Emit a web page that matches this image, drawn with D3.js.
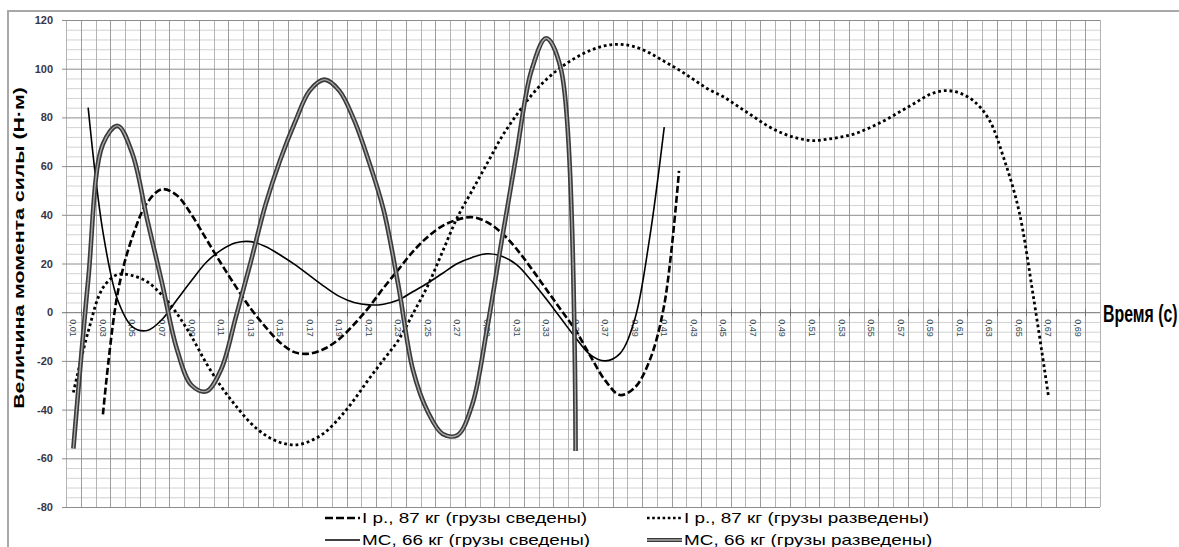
<!DOCTYPE html>
<html>
<head>
<meta charset="utf-8">
<script src="https://cdnjs.cloudflare.com/ajax/libs/d3/7.8.5/d3.min.js"></script>
<style>
body { margin: 0; background: #fff; overflow: hidden; }
svg { display: block; }
.y-tick { font: bold 11px "Liberation Sans", Arial, sans-serif; fill: #3b3545; }
.x-tick { font: 9px "Liberation Sans", Arial, sans-serif; fill: #2e4650; }
.y-title { font: bold 15px "Liberation Sans", Arial, sans-serif; fill: #000; }
.x-title { font: bold 23px "Liberation Sans", Arial, sans-serif; fill: #000; }
.legend-text { font: 14px "Liberation Sans", Arial, sans-serif; fill: #000; }
</style>
</head>
<body>
<div id="chart"></div>
<script>
const width = 1179, height = 547;

// categories (время, с)
const categories = ['0,01','0,02','0,03','0,04','0,05','0,06','0,07','0,08','0,09','0,10',
	'0,11','0,12','0,13','0,14','0,15','0,16','0,17','0,18','0,19','0,20',
	'0,21','0,22','0,23','0,24','0,25','0,26','0,27','0,28','0,29','0,30',
	'0,31','0,32','0,33','0,34','0,35','0,36','0,37','0,38','0,39','0,40',
	'0,41','0,42','0,43','0,44','0,45','0,46','0,47','0,48','0,49','0,50',
	'0,51','0,52','0,53','0,54','0,55','0,56','0,57','0,58','0,59','0,60',
	'0,61','0,62','0,63','0,64','0,65','0,66','0,67','0,68','0,69','0,70'];

const yTicks = [-80, -60, -40, -20, 0, 20, 40, 60, 80, 100, 120];

const seriesNames = [
	'I р., 87 кг (грузы сведены)',
	'I р., 87 кг (грузы разведены)',
	'МС, 66 кг (грузы сведены)',
	'МС, 66 кг (грузы разведены)'
];

// I р., 87 кг, грузы сведены (0,03 .. 0,42)
const ipClosed = [null, null,
	-42, 8, 31, 45, 50.5, 48, 40, 30, 20, 10.5,
	1.5, -6, -12.5, -16.5, -17, -15, -11, -5, 2, 10,
	17.5, 25, 31, 35.5, 38, 39, 37, 32.5, 26, 18,
	9.5, 1, -7.5, -18, -28, -34, -31, -20, 3, 58,
	null, null, null, null, null, null, null, null, null, null,
	null, null, null, null, null, null, null, null, null, null,
	null, null, null, null, null, null, null, null];

// I р., 87 кг, грузы разведены (0,01 .. 0,67)
const ipOpen = [
	-33, -8, 10, 15.5, 15, 12.5, 7, -0.5, -10, -21,
	-30.5, -38.5, -45.5, -50.5, -53.5, -54.5, -53, -49.5, -43.5, -36,
	-27.5, -19.5, -11.5, -0.5, 11, 25, 39, 50, 61, 72,
	81, 89, 95.5, 100.5, 104.5, 107.5, 109.5, 110, 109, 106.5,
	103, 99.5, 95.5, 91.5, 88.5, 84.5, 80.5, 76.5, 73.5, 71.5,
	70.5, 71, 72, 73.5, 76, 79, 82.5, 86, 89.5, 91,
	90, 86.5, 79, 63, 42, 6, -34, null, null, null];

// МС, 66 кг, грузы сведены (0,02 .. 0,41)
const msClosed = [null,
	84, 33, 5, -6, -7.5, -3, 5, 13, 20.5,
	25.5, 28.5, 29, 27, 23.5, 19.5, 15, 10.5, 6.5, 4,
	3, 3.3, 5, 8.5, 12, 16, 20, 22.5, 24, 23,
	19.5, 13, 5.5, -2.5, -10.5, -17.5, -20, -17, -3, 30,
	76, null, null, null, null, null, null, null, null, null,
	null, null, null, null, null, null, null, null, null, null,
	null, null, null, null, null, null, null, null, null, null];

// МС, 66 кг, грузы разведены (0,01 .. 0,35)
const msOpen = [
	-56, 13, 69, 76.5, 65, 38, 12, -15, -30, -32.5,
	-23.5, -2, 20.5, 44, 62.5, 78, 91, 95.5, 91, 79,
	62, 42, 11, -24, -41, -50, -50.5, -38, -7, 29.5,
	65, 99, 112.5, 100, -57, null, null, null, null, null,
	null, null, null, null, null, null, null, null, null, null,
	null, null, null, null, null, null, null, null, null, null,
	null, null, null, null, null, null, null, null, null, null];

const plot = {left: 66, right: 1100, top: 20, bottom: 507};

const x = d3.scaleBand()
	.domain(categories)
	.range([plot.left, plot.right]);
const y = d3.scaleLinear()
	.domain([-80, 120])
	.range([plot.bottom, plot.top]);
const cx = c => x(c) + x.bandwidth() / 2;

const svg = d3.select('#chart').append('svg')
	.attr('width', width)
	.attr('height', height);

// chart frame
svg.append('rect')
	.attr('x', 8).attr('y', 11)
	.attr('width', width + 20).attr('height', height + 20)
	.attr('fill', 'none')
	.attr('stroke', '#a8a8a8')
	.attr('stroke-width', 2);

drawGrid();
drawAxes();
drawSeries();
addLegend();

function drawGrid() {
	const g = svg.append('g').attr('class', 'grid');

	// minor horizontal lines, every 4
	const minor = d3.range(-80, 121, 4).filter(v => v % 20 !== 0);
	g.selectAll('.h-minor')
		.data(minor)
		.enter().append('line')
			.attr('x1', plot.left).attr('x2', plot.right)
			.attr('y1', d => y(d) + 0.5).attr('y2', d => y(d) + 0.5)
			.attr('stroke', '#d2d2d2');

	// vertical lines on category boundaries
	const bounds = d3.range(categories.length + 1);
	g.selectAll('.v-line')
		.data(bounds)
		.enter().append('line')
			.attr('x1', d => Math.round(plot.left + d * x.step()) + 0.5)
			.attr('x2', d => Math.round(plot.left + d * x.step()) + 0.5)
			.attr('y1', plot.top).attr('y2', plot.bottom)
			.attr('stroke', d => d % 2 ? '#9c9c9c' : '#b4b4b4');

	// major horizontal lines
	g.selectAll('.h-major')
		.data(yTicks)
		.enter().append('line')
			.attr('x1', plot.left - 4).attr('x2', plot.right)
			.attr('y1', d => y(d) + 0.5).attr('y2', d => y(d) + 0.5)
			.attr('stroke', d => d === 0 ? '#707070' : '#8c8c8c');
}

function drawAxes() {
	// small ticks on the time axis
	svg.append('g')
		.selectAll('line')
		.data(d3.range(1, categories.length, 2))
		.enter().append('line')
			.attr('x1', d => Math.round(plot.left + d * x.step()) + 0.5)
			.attr('x2', d => Math.round(plot.left + d * x.step()) + 0.5)
			.attr('y1', y(0) - 3).attr('y2', y(0) + 4)
			.attr('stroke', '#707070');

	svg.append('g')
		.selectAll('text')
		.data(yTicks)
		.enter().append('text')
			.attr('class', 'y-tick')
			.attr('x', 53)
			.attr('y', d => y(d) + 4)
			.attr('text-anchor', 'end')
			.text(d => d);

	svg.append('g')
		.selectAll('text')
		.data(categories.filter((c, i) => i % 2 === 0))
		.enter().append('text')
			.attr('class', 'x-tick')
			.attr('transform', d => `translate(${cx(d) - 3},${y(0) + 7}) rotate(90)`)
			.text(d => d);

	// axis titles, narrow and tall like the original
	svg.append('text')
		.attr('class', 'y-title')
		.attr('transform', `translate(24,248) rotate(-90) scale(1.42,1)`)
		.attr('text-anchor', 'middle')
		.text('Величина момента силы (Н·м)');

	svg.append('text')
		.attr('class', 'x-title')
		.attr('transform', `translate(1103,${y(0) + 10}) scale(0.69,1)`)
		.text('Время (с)');
}

function drawSeries() {
	const line = d3.line()
		.defined(d => d.v != null)
		.x(d => cx(d.c))
		.y(d => y(d.v))
		.curve(d3.curveCatmullRom.alpha(0.5));
	const rows = vals => categories.map((c, i) => ({c: c, v: vals[i]}));

	const g = svg.append('g').attr('class', 'series');

	g.append('path')
		.attr('d', line(rows(ipOpen)))
		.attr('fill', 'none')
		.attr('stroke', '#000')
		.attr('stroke-width', 2.8)
		.attr('stroke-dasharray', '2.8,2.9');

	g.append('path')
		.attr('d', line(rows(ipClosed)))
		.attr('fill', 'none')
		.attr('stroke', '#000')
		.attr('stroke-width', 2.6)
		.attr('stroke-dasharray', '7,3');

	g.append('path')
		.attr('d', line(rows(msClosed)))
		.attr('fill', 'none')
		.attr('stroke', '#000')
		.attr('stroke-width', 1.6);

	// double line
	g.append('path')
		.attr('d', line(rows(msOpen)))
		.attr('fill', 'none')
		.attr('stroke', '#3a3a3a')
		.attr('stroke-width', 4.6);
	g.append('path')
		.attr('d', line(rows(msOpen)))
		.attr('fill', 'none')
		.attr('stroke', '#a8a8a8')
		.attr('stroke-width', 1.4);
}

function addLegend() {
	const items = [
		{x: 325, y: 518, dash: '8,3', w: 2.6},
		{x: 647, y: 518, dash: '2.6,2.6', w: 2.6},
		{x: 325, y: 540, dash: null, w: 1.6},
		{x: 647, y: 540, dash: null, w: 4.2, dbl: true}
	];
	const g = svg.append('g').attr('class', 'legend');
	items.forEach((d, i) => {
		const l = g.append('line')
			.attr('x1', d.x).attr('x2', d.x + 35)
			.attr('y1', d.y).attr('y2', d.y)
			.attr('stroke', d.dbl ? '#3a3a3a' : '#000')
			.attr('stroke-width', d.w);
		if (d.dash) l.attr('stroke-dasharray', d.dash);
		if (d.dbl) {
			g.append('line')
				.attr('x1', d.x).attr('x2', d.x + 35)
				.attr('y1', d.y).attr('y2', d.y)
				.attr('stroke', '#e0e0e0')
				.attr('stroke-width', 1.2);
		}
		// legend text is wide in the original
		g.append('text')
			.attr('class', 'legend-text')
			.attr('transform', `translate(${d.x + 37},${d.y + 5}) scale(1.35,1)`)
			.text(seriesNames[i]);
	});
}
</script>
</body>
</html>
